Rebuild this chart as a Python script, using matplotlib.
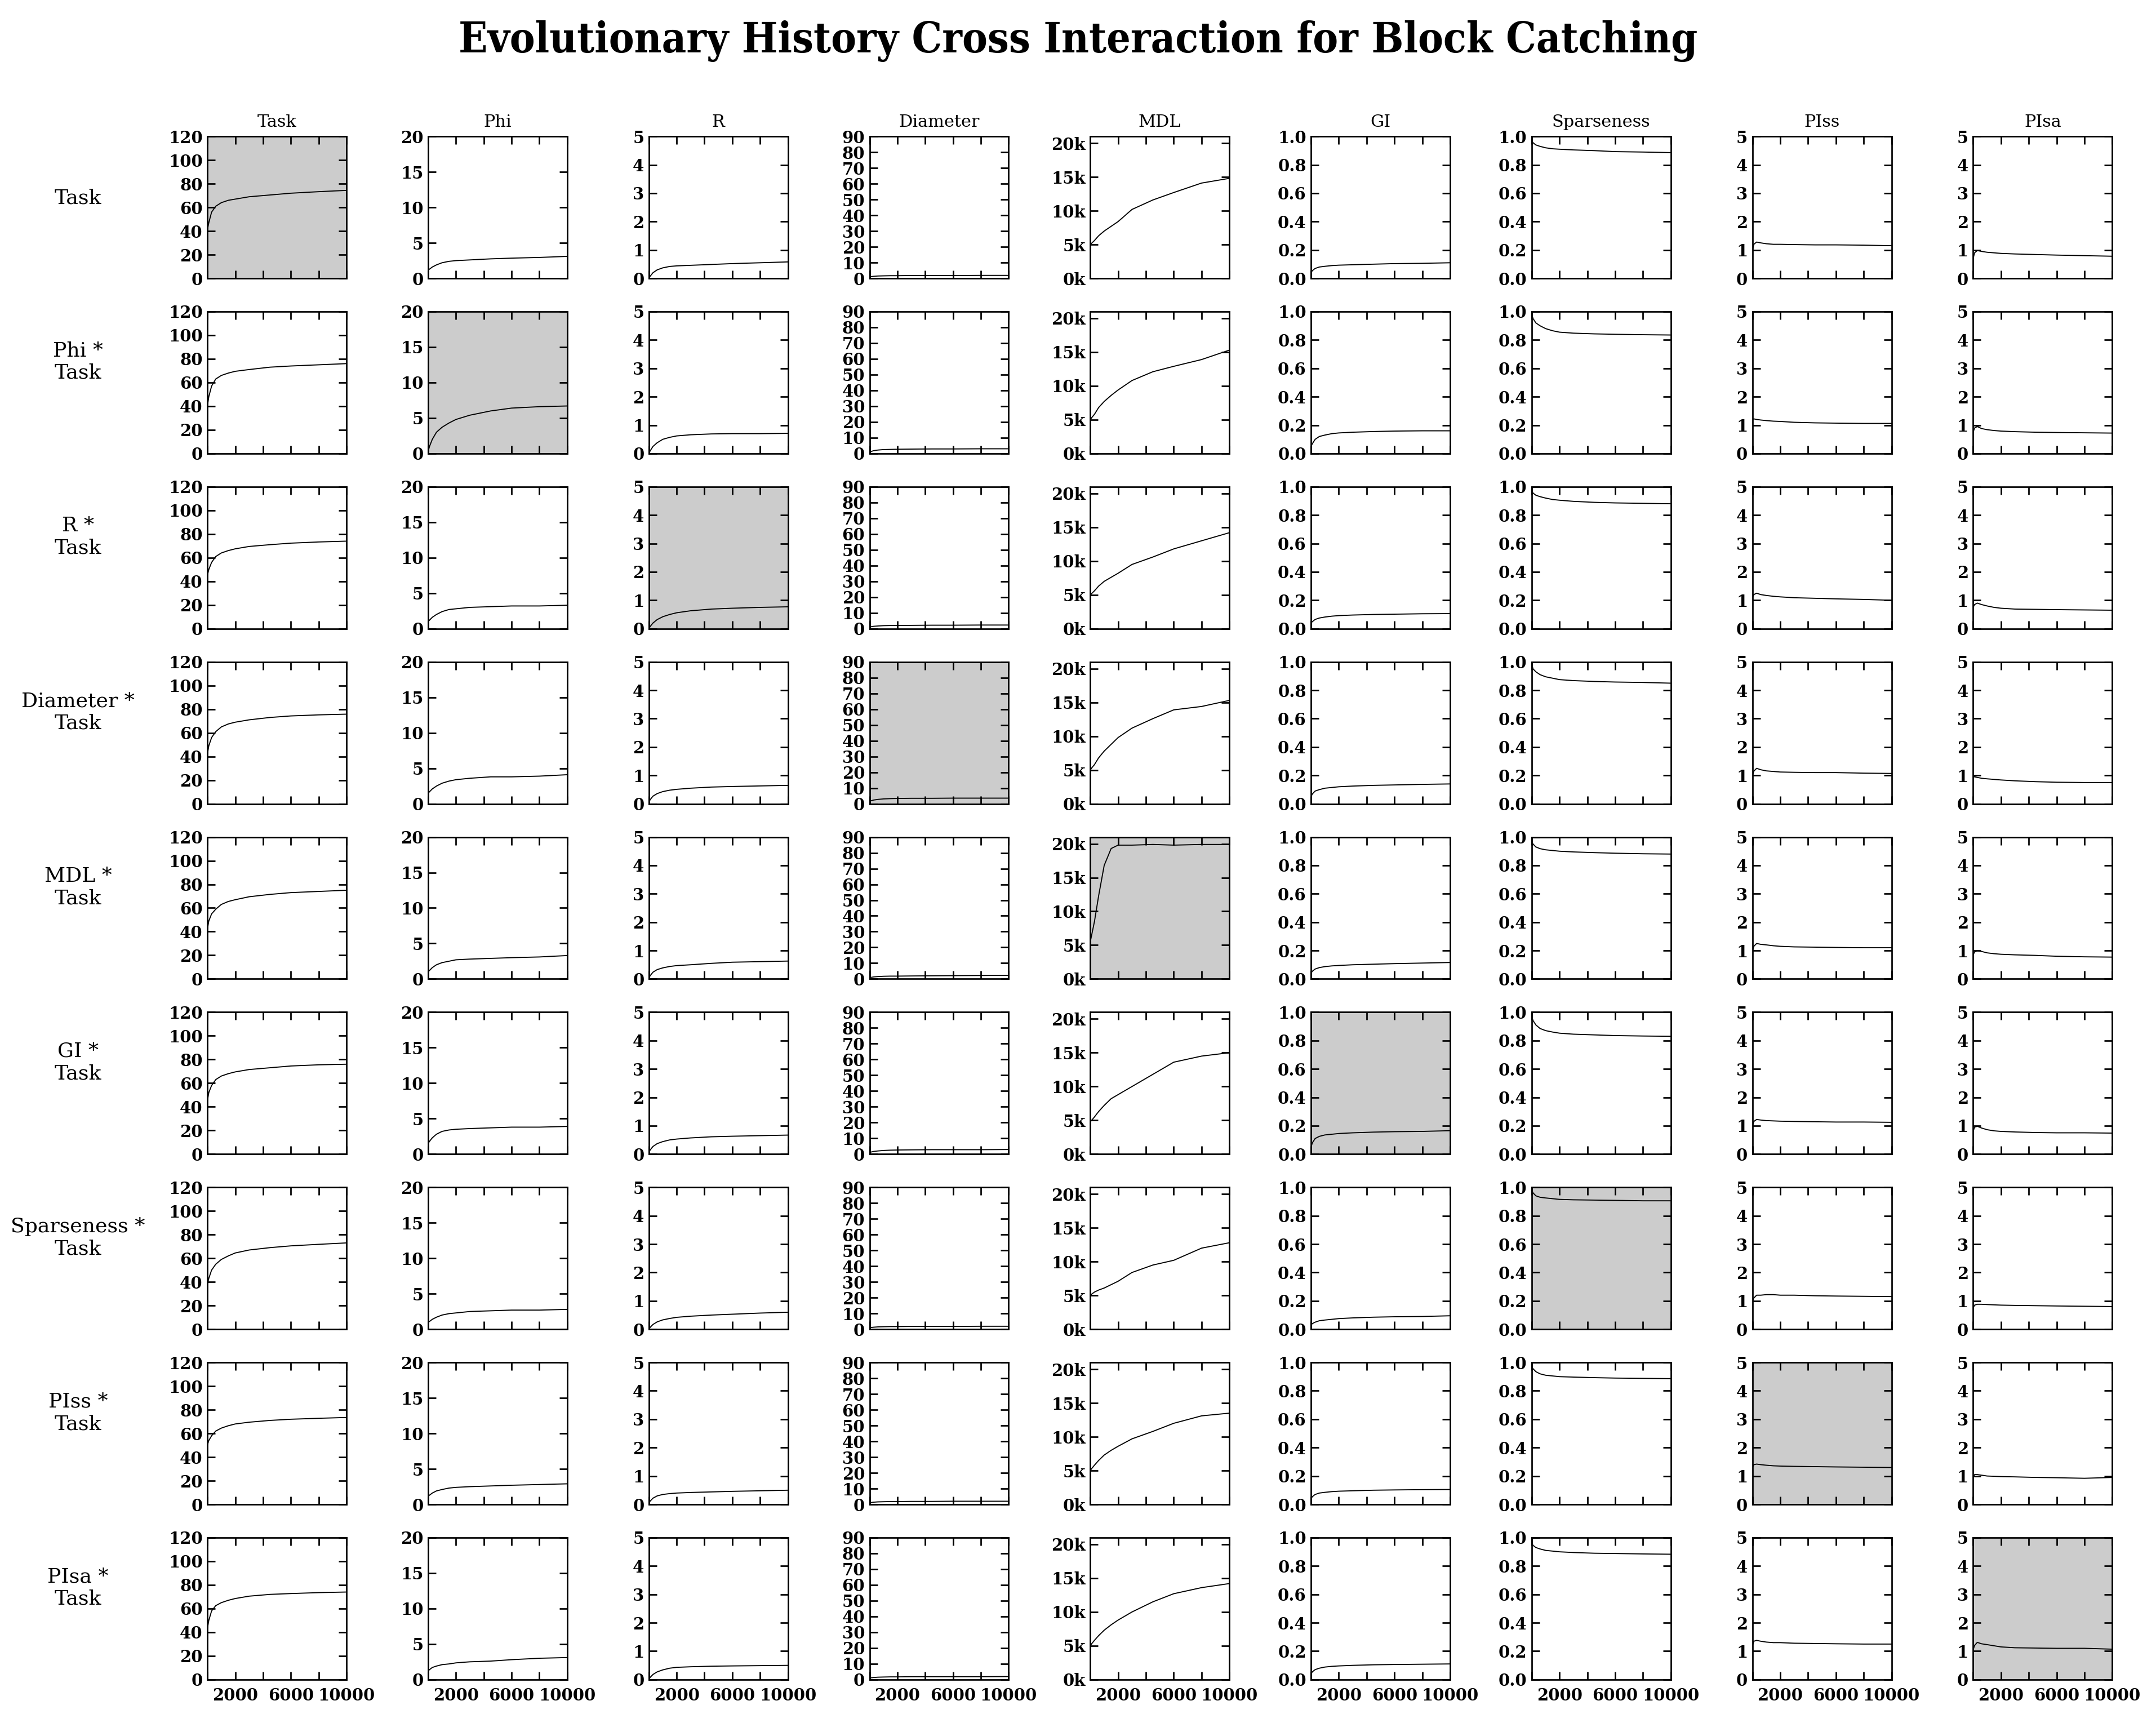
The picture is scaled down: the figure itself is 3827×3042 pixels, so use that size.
import numpy as np
import matplotlib
matplotlib.use("Agg")
import matplotlib.pyplot as plt
from matplotlib import font_manager
from matplotlib.ticker import FuncFormatter

gen = [0, 100, 300, 600, 1000, 1500, 2000, 3000, 4500, 6000, 8000, 10000]

metrics = ["Task", "Phi", "R", "Diameter", "MDL", "GI", "Sparseness", "PIss", "PIsa"]
row_labels = ["Task"] + [m + " *\nTask" for m in metrics[1:]]

# one list per metric (column), one row per experiment
task = [
    [41, 47, 56, 61, 64, 66, 67, 69, 70.5, 72, 73.3, 74.4],
    [40, 48, 57, 63, 66, 68, 69.5, 71, 73, 74, 75, 76],
    [45, 50, 56, 61, 64, 66, 67.5, 69.5, 71, 72.3, 73.3, 74],
    [42, 49, 56, 61, 65, 67.5, 69, 71, 73, 74.3, 75.2, 75.8],
    [42, 49, 55, 59, 63, 65.5, 67, 69.5, 71.5, 73, 74, 75],
    [45, 52, 58, 63, 66, 68, 69.5, 71.5, 73, 74.5, 75.5, 76],
    [38, 43, 50, 55, 59, 62, 64.5, 67, 69, 70.5, 71.8, 73],
    [50, 54, 58, 62, 64.5, 66.5, 68, 69.5, 71, 72, 72.8, 73.5],
    [43, 50, 58, 62.5, 65, 67, 68.5, 70.5, 72, 72.7, 73.5, 74],
]
phi = [
    [1.2, 1.3, 1.6, 1.9, 2.2, 2.4, 2.5, 2.6, 2.75, 2.85, 2.95, 3.1],
    [0.3, 1.0, 2.0, 3.0, 3.7, 4.3, 4.8, 5.4, 6.0, 6.4, 6.6, 6.7],
    [1.0, 1.2, 1.6, 2.0, 2.4, 2.7, 2.8, 3.0, 3.1, 3.2, 3.2, 3.3],
    [1.5, 1.7, 2.1, 2.5, 2.9, 3.2, 3.4, 3.6, 3.8, 3.8, 3.9, 4.1],
    [1.0, 1.2, 1.6, 2.0, 2.3, 2.5, 2.7, 2.8, 2.9, 3.0, 3.1, 3.3],
    [1.5, 1.8, 2.3, 2.8, 3.2, 3.4, 3.5, 3.6, 3.7, 3.8, 3.8, 3.9],
    [1.0, 1.1, 1.4, 1.7, 2.0, 2.2, 2.3, 2.5, 2.6, 2.7, 2.7, 2.8],
    [1.2, 1.3, 1.6, 1.9, 2.1, 2.3, 2.4, 2.5, 2.6, 2.7, 2.8, 2.9],
    [1.2, 1.4, 1.7, 1.9, 2.1, 2.2, 2.35, 2.5, 2.6, 2.8, 3.0, 3.1],
]
r_vals = [
    [0.0, 0.08, 0.2, 0.3, 0.37, 0.42, 0.44, 0.46, 0.49, 0.52, 0.55, 0.58],
    [0.0, 0.1, 0.25, 0.38, 0.5, 0.57, 0.62, 0.66, 0.69, 0.7, 0.7, 0.71],
    [0.0, 0.08, 0.2, 0.32, 0.42, 0.5, 0.56, 0.63, 0.69, 0.72, 0.75, 0.77],
    [0.05, 0.15, 0.27, 0.36, 0.43, 0.48, 0.51, 0.55, 0.59, 0.61, 0.63, 0.65],
    [0.03, 0.12, 0.24, 0.33, 0.39, 0.44, 0.47, 0.5, 0.55, 0.59, 0.61, 0.63],
    [0.05, 0.15, 0.27, 0.37, 0.44, 0.5, 0.53, 0.57, 0.61, 0.63, 0.65, 0.67],
    [0.0, 0.07, 0.17, 0.26, 0.33, 0.38, 0.42, 0.46, 0.5, 0.53, 0.57, 0.6],
    [0.05, 0.12, 0.22, 0.3, 0.35, 0.38, 0.4, 0.42, 0.44, 0.46, 0.48, 0.5],
    [0.0, 0.08, 0.18, 0.27, 0.34, 0.4, 0.43, 0.45, 0.47, 0.48, 0.49, 0.5],
]
diameter = [
    [1.0, 1.1, 1.3, 1.5, 1.6, 1.7, 1.7, 1.8, 1.8, 1.8, 1.9, 1.9],
    [1.0, 1.3, 1.8, 2.2, 2.5, 2.6, 2.7, 2.8, 2.9, 2.9, 3.0, 3.0],
    [1.0, 1.2, 1.5, 1.7, 1.9, 2.0, 2.0, 2.1, 2.2, 2.2, 2.3, 2.3],
    [1.5, 1.9, 2.4, 2.8, 3.1, 3.3, 3.4, 3.5, 3.5, 3.6, 3.6, 3.6],
    [0.7, 1.0, 1.3, 1.5, 1.7, 1.8, 1.8, 1.9, 2.0, 2.1, 2.2, 2.3],
    [1.0, 1.3, 1.7, 2.0, 2.3, 2.5, 2.6, 2.7, 2.8, 2.8, 2.8, 2.9],
    [1.0, 1.1, 1.3, 1.5, 1.6, 1.7, 1.7, 1.8, 1.8, 1.8, 1.9, 1.9],
    [1.0, 1.2, 1.4, 1.6, 1.7, 1.8, 1.8, 1.9, 1.9, 2.0, 2.0, 2.0],
    [1.0, 1.1, 1.3, 1.5, 1.6, 1.7, 1.7, 1.8, 1.8, 1.8, 1.8, 1.9],
]
mdl = [
    [5000, 5200, 5600, 6300, 7000, 7700, 8400, 10200, 11600, 12700, 14100, 14800],
    [5000, 5300, 5800, 6800, 7700, 8600, 9400, 10800, 12100, 12900, 13900, 15300],
    [5000, 5200, 5600, 6300, 7000, 7600, 8200, 9500, 10600, 11800, 13000, 14200],
    [5000, 5300, 5800, 6800, 7800, 8800, 9800, 11200, 12600, 13900, 14400, 15300],
    [5500, 6500, 8500, 12300, 16800, 19300, 19800, 19800, 19900, 19800, 19900, 19900],
    [4800, 5000, 5500, 6300, 7200, 8200, 8800, 10000, 11800, 13600, 14500, 15000],
    [5000, 5200, 5500, 5800, 6100, 6600, 7100, 8400, 9500, 10200, 12000, 12800],
    [5000, 5300, 5800, 6500, 7300, 8000, 8600, 9700, 10800, 12000, 13100, 13500],
    [5000, 5300, 5800, 6500, 7300, 8100, 8800, 10000, 11500, 12700, 13600, 14200],
]
gi = [
    [0.04, 0.055, 0.07, 0.08, 0.085, 0.09, 0.093, 0.096, 0.1, 0.104, 0.106, 0.11],
    [0.05, 0.07, 0.1, 0.12, 0.13, 0.14, 0.145, 0.15, 0.155, 0.158, 0.16, 0.16],
    [0.04, 0.05, 0.065, 0.075, 0.082, 0.088, 0.092, 0.096, 0.1, 0.102, 0.105, 0.106],
    [0.05, 0.07, 0.09, 0.1, 0.11, 0.115, 0.12, 0.125, 0.13, 0.133, 0.137, 0.14],
    [0.04, 0.055, 0.07, 0.08, 0.087, 0.092, 0.095, 0.1, 0.104, 0.108, 0.112, 0.116],
    [0.05, 0.08, 0.11, 0.125, 0.135, 0.14, 0.145, 0.15, 0.155, 0.158, 0.16, 0.165],
    [0.03, 0.04, 0.05, 0.06, 0.065, 0.07, 0.075, 0.08, 0.085, 0.088, 0.09, 0.095],
    [0.04, 0.055, 0.07, 0.08, 0.085, 0.09, 0.093, 0.096, 0.1, 0.102, 0.104, 0.105],
    [0.04, 0.055, 0.07, 0.08, 0.088, 0.093, 0.096, 0.1, 0.104, 0.106, 0.108, 0.11],
]
sparseness = [
    [0.97, 0.955, 0.94, 0.93, 0.92, 0.913, 0.91, 0.905, 0.9, 0.893, 0.89, 0.886],
    [0.98, 0.95, 0.92, 0.9, 0.88, 0.865, 0.855, 0.848, 0.843, 0.84, 0.837, 0.835],
    [0.97, 0.955, 0.94, 0.93, 0.92, 0.91, 0.905, 0.897, 0.89, 0.886, 0.883, 0.88],
    [0.98, 0.95, 0.93, 0.91, 0.895, 0.885, 0.875, 0.868, 0.862, 0.858, 0.855, 0.85],
    [0.965, 0.95, 0.93, 0.918, 0.91, 0.905, 0.9, 0.895, 0.89, 0.886, 0.882, 0.88],
    [0.97, 0.94, 0.91, 0.885, 0.87, 0.86, 0.852, 0.845, 0.84, 0.835, 0.832, 0.83],
    [0.98, 0.96, 0.94, 0.93, 0.925, 0.92, 0.915, 0.912, 0.91, 0.908, 0.905, 0.905],
    [0.97, 0.955, 0.935, 0.92, 0.91, 0.905, 0.9, 0.897, 0.893, 0.89, 0.888, 0.886],
    [0.96, 0.945, 0.93, 0.92, 0.91, 0.905, 0.9, 0.895, 0.89, 0.888, 0.885, 0.883],
]
piss = [
    [1.0, 1.2, 1.28, 1.25, 1.22, 1.2, 1.2, 1.19, 1.18, 1.18, 1.17, 1.15],
    [1.2, 1.22, 1.2, 1.18, 1.16, 1.14, 1.13, 1.1, 1.08, 1.07, 1.06, 1.06],
    [1.1, 1.2, 1.25, 1.2, 1.17, 1.14, 1.12, 1.09, 1.07, 1.05, 1.03, 1.0],
    [1.0, 1.15, 1.25, 1.2, 1.16, 1.14, 1.12, 1.11, 1.1, 1.1, 1.08, 1.07],
    [1.0, 1.15, 1.25, 1.22, 1.2, 1.17, 1.15, 1.13, 1.12, 1.11, 1.1, 1.1],
    [1.0, 1.15, 1.22, 1.2, 1.18, 1.17, 1.16, 1.15, 1.14, 1.13, 1.13, 1.12],
    [1.0, 1.1, 1.2, 1.2, 1.22, 1.22, 1.2, 1.2, 1.18, 1.17, 1.16, 1.15],
    [1.3, 1.4, 1.42, 1.4, 1.38, 1.36, 1.35, 1.34, 1.33, 1.32, 1.31, 1.3],
    [1.2, 1.35, 1.38, 1.35, 1.32, 1.3, 1.3, 1.28, 1.27, 1.26, 1.25, 1.25],
]
pisa = [
    [0.7, 0.9, 0.98, 0.95, 0.92, 0.9, 0.88, 0.86, 0.84, 0.82, 0.8, 0.78],
    [0.75, 0.9, 0.95, 0.88, 0.84, 0.81, 0.79, 0.77, 0.75, 0.74, 0.73, 0.72],
    [0.75, 0.85, 0.9, 0.85, 0.8, 0.75, 0.72, 0.69, 0.68, 0.67, 0.66, 0.65],
    [0.95, 0.95, 0.93, 0.9, 0.88, 0.86, 0.84, 0.81, 0.78, 0.76, 0.75, 0.75],
    [0.85, 0.95, 1.0, 0.97, 0.92, 0.89, 0.87, 0.85, 0.83, 0.8, 0.78, 0.77],
    [0.8, 0.95, 0.98, 0.92, 0.86, 0.82, 0.8, 0.78, 0.76, 0.75, 0.75, 0.74],
    [0.75, 0.85, 0.88, 0.88, 0.87, 0.86, 0.85, 0.84, 0.83, 0.82, 0.81, 0.8],
    [0.95, 1.05, 1.05, 1.03, 1.0, 0.99, 0.98, 0.97, 0.95, 0.94, 0.92, 0.95],
    [1.05, 1.2, 1.31, 1.26, 1.23, 1.19, 1.15, 1.12, 1.11, 1.1, 1.1, 1.07],
]
columns = [task, phi, r_vals, diameter, mdl, gi, sparseness, piss, pisa]

y_ticks = [
    [0, 20, 40, 60, 80, 100, 120],
    [0, 5, 10, 15, 20],
    [0, 1, 2, 3, 4, 5],
    [0, 10, 20, 30, 40, 50, 60, 70, 80, 90],
    [0, 5000, 10000, 15000, 20000],
    [0.0, 0.2, 0.4, 0.6, 0.8, 1.0],
    [0.0, 0.2, 0.4, 0.6, 0.8, 1.0],
    [0, 1, 2, 3, 4, 5],
    [0, 1, 2, 3, 4, 5],
]
y_max = [120, 20, 5, 90, 21000, 1.0, 1.0, 5, 5]
x_ticks = [0, 2000, 4000, 6000, 8000, 10000]
x_labels = ["", "2000", "", "6000", "", "10000"]

plt.rcParams["font.family"] = "DejaVu Serif"

fig, axes = plt.subplots(9, 9, figsize=(3827 / 300, 3042 / 300), dpi=300)
fig.subplots_adjust(left=0.0962, right=0.9797, bottom=0.0201, top=0.9204,
                    wspace=0.587, hspace=0.234)


def fmt_for(col):
    if col == 4:
        return FuncFormatter(lambda v, p: "%dk" % int(round(v / 1000)))
    if col in (5, 6):
        return FuncFormatter(lambda v, p: "%.1f" % v)
    return FuncFormatter(lambda v, p: "%d" % int(round(v)))


for i in range(9):
    for j in range(9):
        ax = axes[i, j]
        ax.plot(gen, columns[j][i], color="black", lw=0.45)
        if i == j:
            ax.set_facecolor("#cccccc")
        ax.set_xlim(0, 10000)
        ax.set_ylim(0, y_max[j])
        ax.set_xticks(x_ticks)
        ax.set_yticks(y_ticks[j])
        ax.yaxis.set_major_formatter(fmt_for(j))
        ax.tick_params(direction="in", top=True, right=True, length=3.4,
                       width=0.65, labelsize=7, pad=2)
        for lab in ax.get_yticklabels():
            lab.set_fontweight("bold")
        if i == 8:
            ax.set_xticklabels(x_labels, fontweight="bold")
            ax.tick_params(axis="x", pad=3.5)
        else:
            ax.tick_params(labelbottom=False)
        for sp in ax.spines.values():
            sp.set_linewidth(0.65)
        if i == 0:
            ax.set_title(metrics[j], fontsize=7.3, pad=4)
        if j == 0:
            ax.text(-0.93, 0.5, row_labels[i], transform=ax.transAxes,
                    ha="center", va="bottom", fontsize=8.7, multialignment="center")

# the title in the original is set in a narrower bold serif
title_size = 16.3
cond = font_manager.FontProperties(family="DejaVu Serif", weight="bold", stretch="condensed")
try:
    if "Condensed" in font_manager.findfont(cond, fallback_to_default=False):
        title_size = 18
    else:
        cond = font_manager.FontProperties(family="DejaVu Serif", weight="bold")
except Exception:
    cond = font_manager.FontProperties(family="DejaVu Serif", weight="bold")
cond.set_size(title_size)

fig.suptitle("Evolutionary History Cross Interaction for Block Catching",
             fontproperties=cond, y=0.976, va="center")

fig.savefig("out.png", dpi=300)
